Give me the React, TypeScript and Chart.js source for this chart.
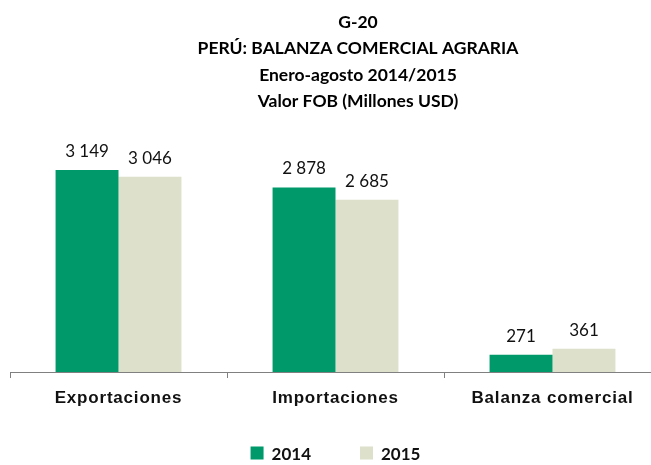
import React, { useEffect, useRef } from "react";
import { Chart, registerables } from "chart.js";

Chart.register(...registerables);

const categories = ["Exportaciones", "Importaciones", "Balanza comercial"];
const seriesLabels = ["2014", "2015"];
const values2014 = [3149, 2878, 271];
const values2015 = [3046, 2685, 361];
const seriesColors = ["#00996A", "#DDE0CA"];
const titleLines = [
  "G-20",
  "PERÚ: BALANZA COMERCIAL AGRARIA",
  "Enero-agosto 2014/2015",
  "Valor FOB (Millones USD)",
];
const yMax = 3500;

const fmt = (n: number) => String(n).replace(/\B(?=(\d{3})+(?!\d))/g, " ");

const labelsPlugin = {
  id: "valueLabels",
  afterDatasetsDraw(chart: any) {
    const ctx = chart.ctx;
    ctx.save();
    ctx.font = "17px Lato";
    ctx.fillStyle = "#111";
    ctx.textAlign = "center";
    ctx.textBaseline = "middle";
    chart.data.datasets.forEach((ds: any, di: number) => {
      const meta = chart.getDatasetMeta(di);
      meta.data.forEach((bar: any, i: number) => {
        ctx.fillText(fmt(ds.data[i]), bar.x, bar.y - 18.5);
      });
    });
    ctx.restore();
    // letter spacing for the category labels drawn next (z: 1 layer)
    ctx.letterSpacing = "0.8px";
  },
  afterDraw(chart: any) {
    const ctx = chart.ctx;
    ctx.letterSpacing = "0px";
    ctx.save();
    const area = chart.chartArea;
    const cx = (area.left + area.right) / 2;
    ctx.font = "bold 17px Lato";
    const box = 13;
    const gapText = 8;
    const gapItems = 49;
    const items = chart.data.datasets.map((ds: any) => ({
      text: ds.label,
      color: ds.backgroundColor,
      w: box + gapText + ctx.measureText(ds.label).width,
    }));
    const total = items.reduce((s: number, it: any) => s + it.w, 0) + gapItems * (items.length - 1);
    let x = cx - total / 2;
    const yc = chart.height - 11;
    ctx.textBaseline = "middle";
    ctx.textAlign = "left";
    items.forEach((it: any) => {
      ctx.fillStyle = it.color;
      ctx.fillRect(x, yc - box / 2 - 1, box, box);
      ctx.fillStyle = "#111";
      ctx.fillText(it.text, x + box + gapText, yc + 1);
      x += it.w + gapItems;
    });
    ctx.restore();
  },
};

export default function App() {
  const ref = useRef<HTMLCanvasElement>(null);
  useEffect(() => {
    if (!ref.current) return;
    const chart = new Chart(ref.current, {
      type: "bar",
      data: {
        labels: categories,
        datasets: [
          { label: seriesLabels[0], data: values2014, backgroundColor: seriesColors[0], yAxisID: "y" },
          { label: seriesLabels[1], data: values2015, backgroundColor: seriesColors[1], yAxisID: "y" },
        ],
      },
      options: {
        animation: false,
        responsive: false,
        events: [],
        layout: { padding: { left: 0, right: 0, top: 0, bottom: 46.6 } },
        datasets: { bar: { categoryPercentage: 0.58, barPercentage: 1.0 } },
        plugins: {
          legend: { display: false },
          tooltip: { enabled: false },
          title: {
            display: true,
            text: titleLines,
            color: "#000",
            font: { family: "Lato", weight: "bold", size: 17.5, lineHeight: "26.6px" },
            padding: { top: 8.7, bottom: 32.5 },
          },
        },
        scales: {
          x: {
            grid: {
              display: true,
              drawOnChartArea: false,
              drawTicks: true,
              tickLength: 6,
              color: "#808080",
              offset: true,
            },
            border: { display: true, color: "#808080", width: 1 },
            ticks: {
              z: 1,
              padding: 10,
              color: "#111",
              maxRotation: 0,
              autoSkip: false,
              font: { family: "Liberation Sans", weight: "bold", size: 17 },
            },
          },
          y: {
            position: "left",
            min: 0,
            max: yMax,
            grid: { display: false },
            border: { display: false },
            ticks: { display: false },
            afterFit(scale: any) {
              scale.width = 10;
            },
          },
          yr: {
            type: "linear",
            position: "right",
            grid: { display: false },
            border: { display: false },
            ticks: { display: false },
            afterFit(scale: any) {
              scale.width = 55;
            },
          },
        },
      } as any,
      plugins: [labelsPlugin],
    });
    return () => chart.destroy();
  }, []);
  return (
    <div
      style={{
        position: "absolute",
        left: 0,
        top: 0,
        width: 651,
        height: 465,
        overflow: "hidden",
        background: "#fff",
      }}
    >
      <canvas ref={ref} width={716} height={465} style={{ display: "block" }} />
    </div>
  );
}
